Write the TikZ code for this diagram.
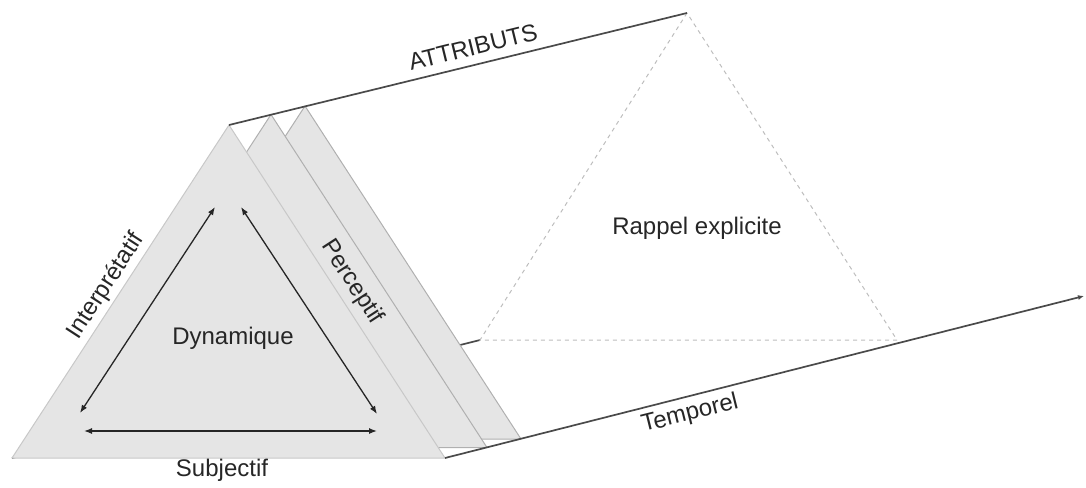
\documentclass[tikz,border=0pt]{standalone}
\usepackage{fontspec}
\setmainfont{Liberation Sans}
\usetikzlibrary{arrows.meta}
\definecolor{panel}{HTML}{E5E5E5}
\definecolor{edge}{HTML}{B0B0B0}
\definecolor{axis}{HTML}{4A4A4A}
\definecolor{ghost}{HTML}{BDBDBD}
\begin{document}
\begin{tikzpicture}[x=1pt,y=-1pt,
  panelface/.style={fill=panel,draw=edge,line width=1pt,line join=round},
  axisline/.style={draw=axis,line width=1.7pt},
  link/.style={draw=black!85,line width=1.3pt,
    {Latex[length=8pt,width=6pt]}-{Latex[length=8pt,width=6pt]}},
  ghostface/.style={draw=ghost,line width=1pt,dash pattern=on 4pt off 4pt},
  lbl/.style={font=\fontsize{24}{27}\selectfont,text=black!85,inner sep=0pt}]
\useasboundingbox (0,0) rectangle (1086,487);

% front triangle and the two copies stacked behind it
\coordinate (A1) at (229,125); \coordinate (L1) at (12,458);   \coordinate (R1) at (445,458);
\coordinate (A2) at (271,114.5); \coordinate (L2) at (54,447.5); \coordinate (R2) at (487,447.5);
\coordinate (A3) at (305,106); \coordinate (L3) at (88,439);   \coordinate (R3) at (521,439);
% far (dashed) triangle
\coordinate (A4) at (687,13);  \coordinate (L4) at (480,340);  \coordinate (R4) at (897,340);
% end of the time axis
\coordinate (T) at (1084,296);

% edge of the prism running behind the panels
\draw[axisline] (L1) -- (L4);
\draw[ghostface] (A4) -- (L4) -- (R4) -- cycle;

\draw[panelface] (A3) -- (L3) -- (R3) -- cycle;
\draw[panelface] (A2) -- (L2) -- (R2) -- cycle;
\draw[panelface, draw=edge!70] (A1) -- (L1) -- (R1) -- cycle;

\draw[axisline] (A1) -- (A4);
\draw[axisline, -{Latex[length=6pt,width=5pt]}] (R1) -- (T);

% relations inside the front triangle
\coordinate (p1) at (80,413);  \coordinate (p2) at (215,207);
\coordinate (p3) at (241,207); \coordinate (p4) at (377,414);
\coordinate (p5) at (84,431);  \coordinate (p6) at (377,431);
\draw[link] (p1) -- (p2);
\draw[link] (p3) -- (p4);
\draw[link] (p5) -- (p6);

\node[lbl] (dyn) at (233,338) {Dynamique};
\node[lbl] (sub) at (222,470) {Subjectif};
\node[lbl, rotate=57] (int) at (106,286) {Interprétatif};
\node[lbl, rotate=-57] (per) at (352,282) {Perceptif};
\node[lbl, rotate=13.8] (att) at (473,47) {ATTRIBUTS};
\node[lbl, rotate=14] (tem) at (690,414) {Temporel};
\node[lbl] (rap) at (697,228) {Rappel explicite};
\end{tikzpicture}
\end{document}
